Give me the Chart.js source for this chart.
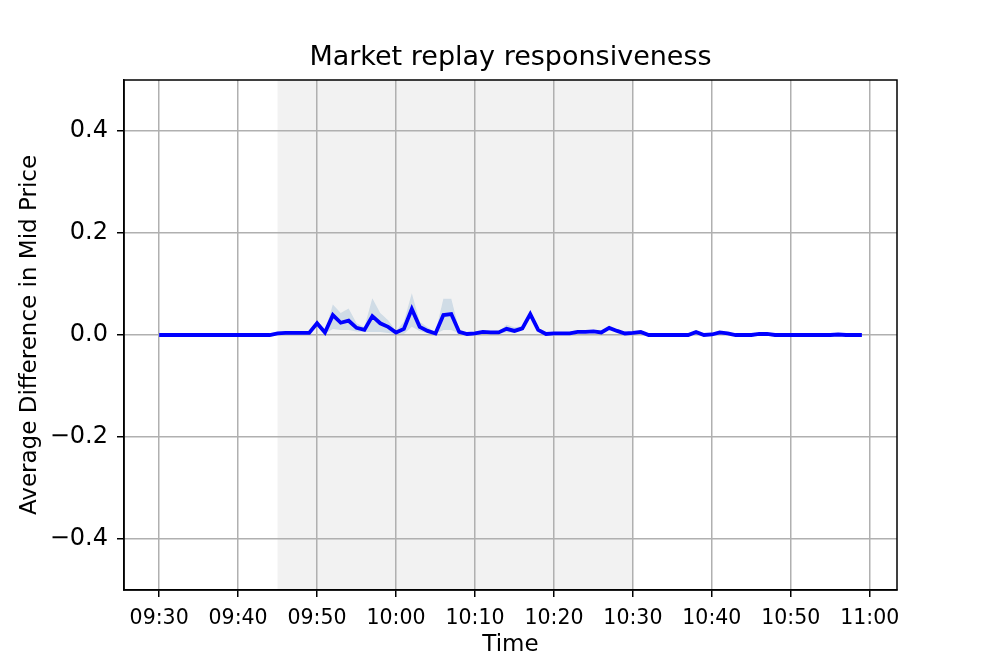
<!DOCTYPE html>
<html>
<head>
<meta charset="utf-8">
<script src="https://cdn.jsdelivr.net/npm/chart.js@4/dist/chart.umd.min.js"></script>
<style>
  html, body { margin: 0; padding: 0; background: #ffffff; }
  canvas { display: block; }
</style>
</head>
<body>
<canvas id="c" width="997" height="664"></canvas>
<script>
// ---- data (minute offsets from 09:30, one per minute 09:30..10:59) ----
const meanDiff = [
  0,0,0,0,0,0,0,0,0,0,
  0,0,0,0,0,0.003,0.004,0.004,0.004,0.004,
  0.023,0.005,0.039,0.024,0.028,0.014,0.010,0.037,0.023,0.016,
  0.005,0.012,0.051,0.016,0.008,0.003,0.039,0.041,0.006,0.002,
  0.003,0.006,0.005,0.005,0.012,0.008,0.013,0.041,0.010,0.002,
  0.003,0.003,0.003,0.006,0.006,0.007,0.005,0.014,0.008,0.003,
  0.004,0.006,0,0,0,0,0,0,0.006,0,
  0.001,0.005,0.003,0,0,0,0.002,0.002,0,0,
  0,0,0,0,0,0,0.001,0,0,0
];
const upperBand = [
  0,0,0,0,0,0,0,0,0,0,
  0,0,0,0,0,0.003,0.004,0.005,0.005,0.005,
  0.030,0.008,0.060,0.043,0.052,0.023,0.015,0.072,0.043,0.029,
  0.008,0.026,0.082,0.026,0.015,0.005,0.071,0.071,0.010,0.003,
  0.004,0.008,0.006,0.007,0.020,0.015,0.017,0.046,0.013,0.003,
  0.004,0.004,0.004,0.007,0.007,0.008,0.006,0.016,0.009,0.004,
  0.005,0.007,0,0,0,0,0,0,0.007,0,
  0.001,0.006,0.004,0,0,0,0.002,0.002,0,0,
  0,0,0,0,0,0,0.001,0,0,0
];
const lowerBand = [
  0,0,0,0,0,0,0,0,0,0,
  0,0,0,0,0,0.003,0.004,0.003,0.003,0.003,
  0.016,0.003,0.012,0.010,0.010,0.007,0.006,0.006,0.006,0.004,
  0.002,0.002,0.016,0.008,0.003,0.002,0.010,0.010,0.003,0.001,
  0.002,0.004,0.004,0.003,0.005,0.004,0.009,0.036,0.007,0.001,
  0.002,0.002,0.002,0.005,0.005,0.006,0.004,0.012,0.007,0.002,
  0.003,0.005,0,0,0,0,0,0,0.005,0,
  0.001,0.004,0.002,0,0,0,0.002,0.002,0,0,
  0,0,0,0,0,0,0.001,0,0,0
];
const xTickMinutes = [0,10,20,30,40,50,60,70,80,90];
const xTickLabels = ['09:30','09:40','09:50','10:00','10:10','10:20','10:30','10:40','10:50','11:00'];
const yTickValues = [-0.4,-0.2,0.0,0.2,0.4];
const shadeStart = 15; // 09:45
const shadeEnd = 60;   // 10:30
const xMin = -4.45, xMax = 93.45;
const yMin = -0.5, yMax = 0.5;

const toPts = arr => arr.map((v, i) => ({x: i, y: v}));
const FONT = 'DejaVu Sans';

const spanPlugin = {
  id: 'span',
  beforeDraw(chart) {
    const {ctx, chartArea, scales} = chart;
    const x0 = scales.x.getPixelForValue(shadeStart);
    const x1 = scales.x.getPixelForValue(shadeEnd);
    ctx.save();
    ctx.fillStyle = 'rgba(128,128,128,0.1)';
    ctx.fillRect(x0, chartArea.top, x1 - x0, chartArea.bottom - chartArea.top);
    ctx.restore();
  }
};
const framePlugin = {
  id: 'frame',
  afterDatasetsDraw(chart) {
    const {ctx, chartArea} = chart;
    ctx.save();
    ctx.strokeStyle = '#000';
    ctx.lineWidth = 1.5;
    ctx.strokeRect(chartArea.left, chartArea.top, chartArea.right - chartArea.left, chartArea.bottom - chartArea.top);
    ctx.restore();
  }
};

new Chart(document.getElementById('c'), {
  type: 'line',
  data: {
    datasets: [
      { label: 'mean', data: toPts(meanDiff), borderColor: 'blue', borderWidth: 3.8,
        pointRadius: 0, fill: false, tension: 0 },
      { label: 'upper', data: toPts(upperBand), borderWidth: 0, borderColor: 'rgba(0,0,0,0)',
        backgroundColor: 'rgba(70,130,180,0.2)', pointRadius: 0, fill: '+1', tension: 0 },
      { label: 'lower', data: toPts(lowerBand), borderWidth: 0, borderColor: 'rgba(0,0,0,0)',
        pointRadius: 0, fill: false, tension: 0 }
    ]
  },
  options: {
    responsive: false,
    animation: false,
    devicePixelRatio: 1,
    layout: { padding: { left: 0, right: 100, top: 0, bottom: 0 } },
    plugins: {
      legend: { display: false },
      tooltip: { enabled: false },
      title: {
        display: true,
        text: 'Market replay responsiveness',
        color: '#000',
        fullSize: false,
        font: { family: FONT, size: 27, weight: 'normal', lineHeight: 1.2 },
        padding: { top: 41.6, bottom: 6 }
      }
    },
    scales: {
      x: {
        type: 'linear',
        min: xMin, max: xMax,
        afterBuildTicks: s => { s.ticks = xTickMinutes.map(v => ({value: v})); },
        afterFit: s => { s.height = 74; },
        ticks: {
          color: '#000', padding: 9, maxRotation: 0, autoSkip: false,
          font: { family: FONT, size: 20.5 },
          callback: v => xTickLabels[xTickMinutes.indexOf(v)]
        },
        grid: { color: '#b0b0b0', lineWidth: 1.5, tickColor: '#000', tickLength: 7, tickWidth: 1.5 },
        border: { color: '#000', width: 1.5 },
        title: { display: true, text: 'Time', color: '#000',
                 font: { family: FONT, size: 23, lineHeight: 1.2 }, padding: { bottom: 5, top: 0 } }
      },
      y: {
        type: 'linear',
        min: yMin, max: yMax,
        afterBuildTicks: s => { s.ticks = yTickValues.map(v => ({value: v})); },
        afterFit: s => { s.width = 124; },
        ticks: {
          color: '#000', padding: 9,
          font: { family: FONT, size: 24 },
          callback: v => (v < 0 ? '\u2212' : '') + Math.abs(v).toFixed(1)
        },
        grid: { color: '#b0b0b0', lineWidth: 1.5, tickColor: '#000', tickLength: 7, tickWidth: 1.5 },
        border: { color: '#000', width: 1.5 },
        title: { display: true, text: 'Average Difference in Mid Price', color: '#000',
                 font: { family: FONT, size: 23, lineHeight: 1.2 }, padding: { top: 16, bottom: 0 } }
      }
    }
  },
  plugins: [spanPlugin, framePlugin]
});
</script>
</body>
</html>
